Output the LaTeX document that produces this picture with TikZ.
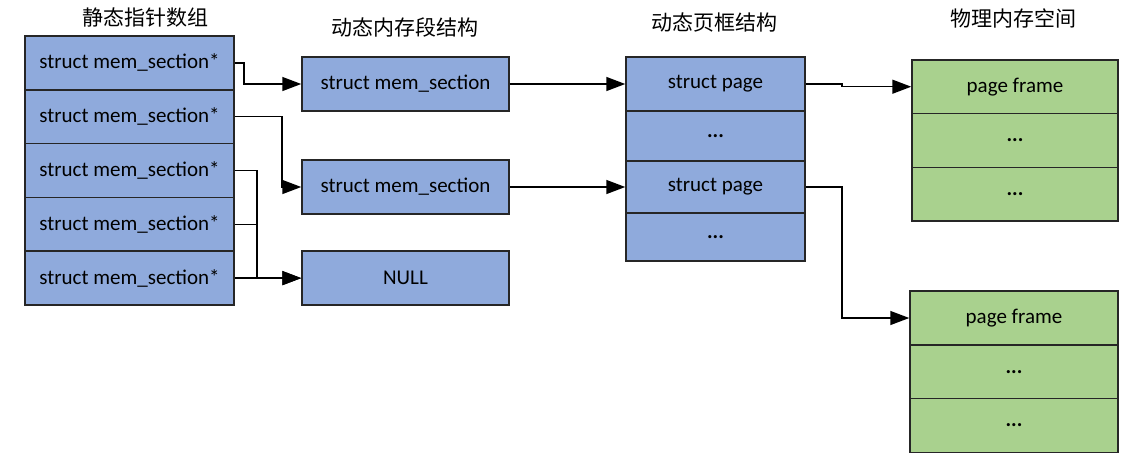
\documentclass[tikz,border=0pt]{standalone}
\usepackage{fontspec}
\setmainfont{Carlito}
\newfontfamily\cjk{Noto Sans CJK SC}
\usetikzlibrary{arrows.meta}
\definecolor{secblue}{RGB}{143,170,220}
\definecolor{pfgreen}{RGB}{169,209,142}
\definecolor{edge}{RGB}{38,38,38}
\newcommand{\morecells}{\raisebox{-1.2pt}{\textbf{...}}}

\begin{document}
\begin{tikzpicture}[
        x=0.5pt,y=-0.5pt,
        cell/.style={rectangle,draw=edge,line width=0.75pt,inner sep=0pt,font=\fontsize{10.5}{12}\selectfont},
        ptr/.style={cell,fill=secblue,minimum width=104.5pt,minimum height=26.9pt},
        sec/.style={cell,fill=secblue,minimum width=103.5pt,minimum height=27pt},
        pg/.style={cell,fill=secblue,minimum width=89.5pt,minimum height=#1},
        pf/.style={cell,fill=pfgreen,minimum width=#1,minimum height=26.85pt},
        title/.style={font=\cjk\fontsize{10.5}{12}\selectfont},
        -{Triangle[length=9.5pt,width=7pt]},line width=0.75pt
    ]
        \useasboundingbox (0,0) rectangle (1130,462);

        \node[title] (t1) at (145,18) {静态指针数组};
        \node[title] (t2) at (405,27) {动态内存段结构};
        \node[title] (t3) at (714,23) {动态页框结构};
        \node[title] (t4) at (1013,18) {物理内存空间};

        \node[ptr] (s1) at (129.5,62.9) {struct mem\_section*};
        \node[ptr] (s2) at (129.5,116.7) {struct mem\_section*};
        \node[ptr] (s3) at (129.5,170.5) {struct mem\_section*};
        \node[ptr] (s4) at (129.5,224.3) {struct mem\_section*};
        \node[ptr] (s5) at (129.5,278.1) {struct mem\_section*};

        \node[sec] (m1) at (405.5,84) {struct mem\_section};
        \node[sec] (m2) at (405.5,187) {struct mem\_section};
        \node[sec] (nl) at (405.5,278.1) {NULL};

        \node[pg=27pt] (p1) at (715.5,84) {struct page};
        \node[pg=25pt] (p2) at (715.5,136) {\morecells};
        \node[pg=26pt] (p3) at (715.5,187) {struct page};
        \node[pg=24pt] (p4) at (715.5,237) {\morecells};

        \node[pf=103pt] (f1) at (1015,86.7) {page frame};
        \node[pf=103pt] (f2) at (1015,140.4) {\morecells};
        \node[pf=103pt] (f3) at (1015,194.1) {\morecells};

        \node[pf=104pt] (g1) at (1014,318) {page frame};
        \node[pf=104pt] (g2) at (1014,371.7) {\morecells};
        \node[pf=104pt] (g3) at (1014,425.4) {\morecells};

        \draw (s1.east) -- ++(9,0) |- (m1.west);
        \draw (s2.east) -- ++(47,0) |- (m2.west);
        \draw (s3.east) -- ++(22,0) |- (nl.west);
        \draw[-] (s4.east) -- ++(22,0);
        \draw (s5.east) -- (nl.west);
        \draw (m1) -- (p1);
        \draw (m2) -- (p3);
        \draw (p1.east) -- ++(36,0) |- (f1.west);
        \draw (p3.east) -- ++(36,0) |- (g1.west);
    \end{tikzpicture}
\end{document}
